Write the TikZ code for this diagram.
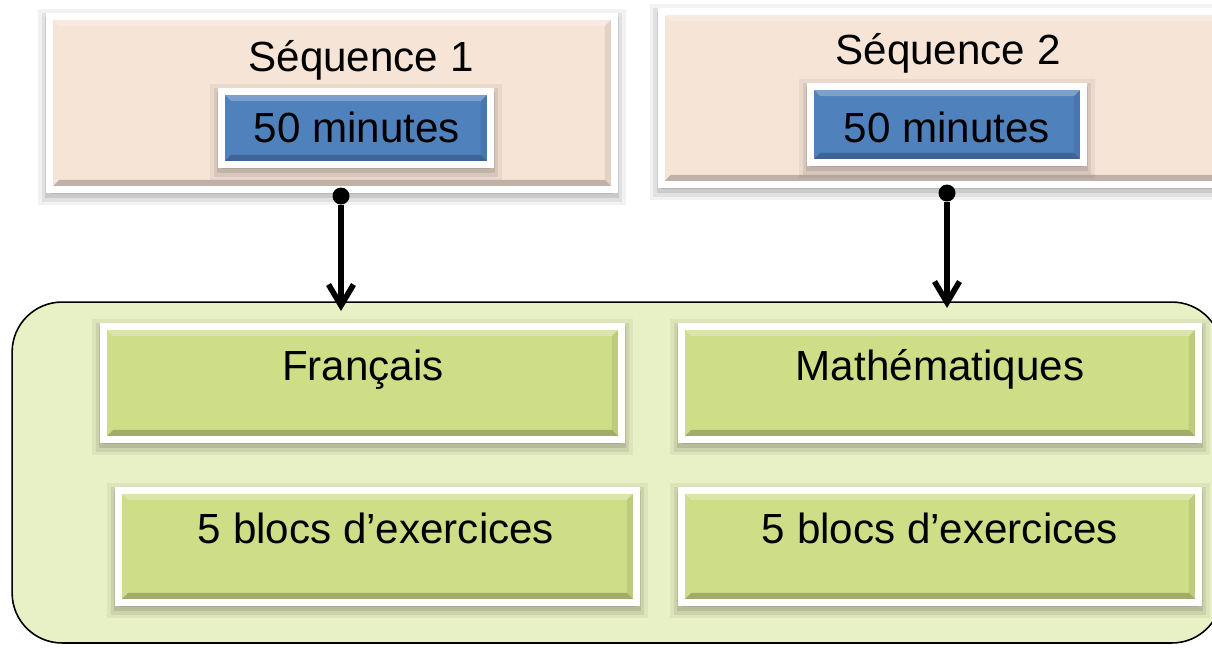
\documentclass[tikz,border=0pt]{standalone}
\usepackage{fontspec}
\setmainfont{Liberation Sans}
\usetikzlibrary{arrows.meta,shadows}
\definecolor{peach}{RGB}{246,228,214}
\definecolor{seqblue}{RGB}{79,129,189}
\definecolor{leaf}{RGB}{205,222,135}
\definecolor{paleleaf}{RGB}{232,241,197}

\begin{document}
\begin{tikzpicture}[x=0.02cm,y=-0.02cm]
  \tikzset{bevel/.style={path picture={
      \fill[white,opacity=0.25] (path picture bounding box.north west) -- (path picture bounding box.north east)
        -- ([xshift=-5.5pt,yshift=-5.5pt]path picture bounding box.north east) -- ([xshift=5.5pt,yshift=-5.5pt]path picture bounding box.north west) -- cycle;
      \fill[black,opacity=0.22] (path picture bounding box.south west) -- (path picture bounding box.south east)
        -- ([xshift=-5.5pt,yshift=5.5pt]path picture bounding box.south east) -- ([xshift=5.5pt,yshift=5.5pt]path picture bounding box.south west) -- cycle;
      \fill[black,opacity=0.08] (path picture bounding box.north east) -- (path picture bounding box.south east)
        -- ([xshift=-5.5pt,yshift=5.5pt]path picture bounding box.south east) -- ([xshift=-5.5pt,yshift=-5.5pt]path picture bounding box.north east) -- cycle;}}}
  \tikzset{softshadow/.style={
      drop shadow={shadow xshift=0pt,shadow yshift=-2.5pt,opacity=0.05,draw=black,line width=13pt},
      drop shadow={shadow xshift=0pt,shadow yshift=-2.5pt,opacity=0.07,draw=black,line width=9pt},
      drop shadow={shadow xshift=0pt,shadow yshift=-2.5pt,opacity=0.1,draw=black,line width=5pt}}}
  \tikzset{card/.style={draw=white,line width=4pt,inner sep=0pt,bevel,softshadow}}
  \tikzset{panel/.style={draw=black,line width=0.9pt,fill=paleleaf,rounded corners=1cm}}
  \tikzset{caption/.style={font=\fontsize{24}{28}\selectfont,inner sep=0pt,anchor=base}}
  \tikzset{dot/.style={circle,fill=black,inner sep=0pt,minimum size=0.34cm}}
  \tikzset{link/.style={line width=3.2pt,-{Straight Barb[length=0.42cm,width=0.5cm,line width=3.2pt]}}}
  \useasboundingbox (0,0) rectangle (1212,647);
  % container
  \node[panel,minimum width=24.2cm,minimum height=6.82cm] (panel) at (617,472.5) {};
  % sequences
  \node[card,fill=peach,minimum width=11.3cm,minimum height=3.46cm] (seq1) at (332,103) {};
  \node[card,fill=peach,minimum width=11.28cm,minimum height=3.46cm] (seq2) at (943,98) {};
  \node[caption] (seq1txt) at (361,71) {Séquence 1};
  \node[caption] (seq2txt) at (948,64) {Séquence 2};
  \node[card,fill=seqblue,minimum width=5.38cm,minimum height=1.46cm] (dur1) at (356,128) {};
  \node[card,fill=seqblue,minimum width=5.46cm,minimum height=1.52cm] (dur2) at (947,124.5) {};
  \node[caption] (dur1txt) at (357,142) {50 minutes};
  \node[caption] (dur2txt) at (947,142) {50 minutes};
  % subjects
  \node[card,fill=leaf,minimum width=10.36cm,minimum height=2.26cm] (fr) at (362.5,383) {};
  \node[card,fill=leaf,minimum width=10.36cm,minimum height=2.24cm] (frblocs) at (377.5,546.5) {};
  \node[card,fill=leaf,minimum width=10.34cm,minimum height=2.26cm] (maths) at (940,383) {};
  \node[card,fill=leaf,minimum width=10.34cm,minimum height=2.24cm] (mathsblocs) at (940,546.5) {};
  \node[caption] (frtxt) at (363,380) {Français};
  \node[caption] (mathstxt) at (940,380) {Mathématiques};
  \node[caption] (frblocstxt) at (376,543) {5 blocs d’exercices};
  \node[caption] (mathsblocstxt) at (940,543) {5 blocs d’exercices};
  % connectors
  \node[dot] (dot1) at (341,196) {};
  \node[dot] (dot2) at (947,193) {};
  \coordinate (tip1) at (341,311);
  \coordinate (tip2) at (947,308);
  \draw[link] (dot1) -- (tip1);
  \draw[link] (dot2) -- (tip2);
\end{tikzpicture}
\end{document}
